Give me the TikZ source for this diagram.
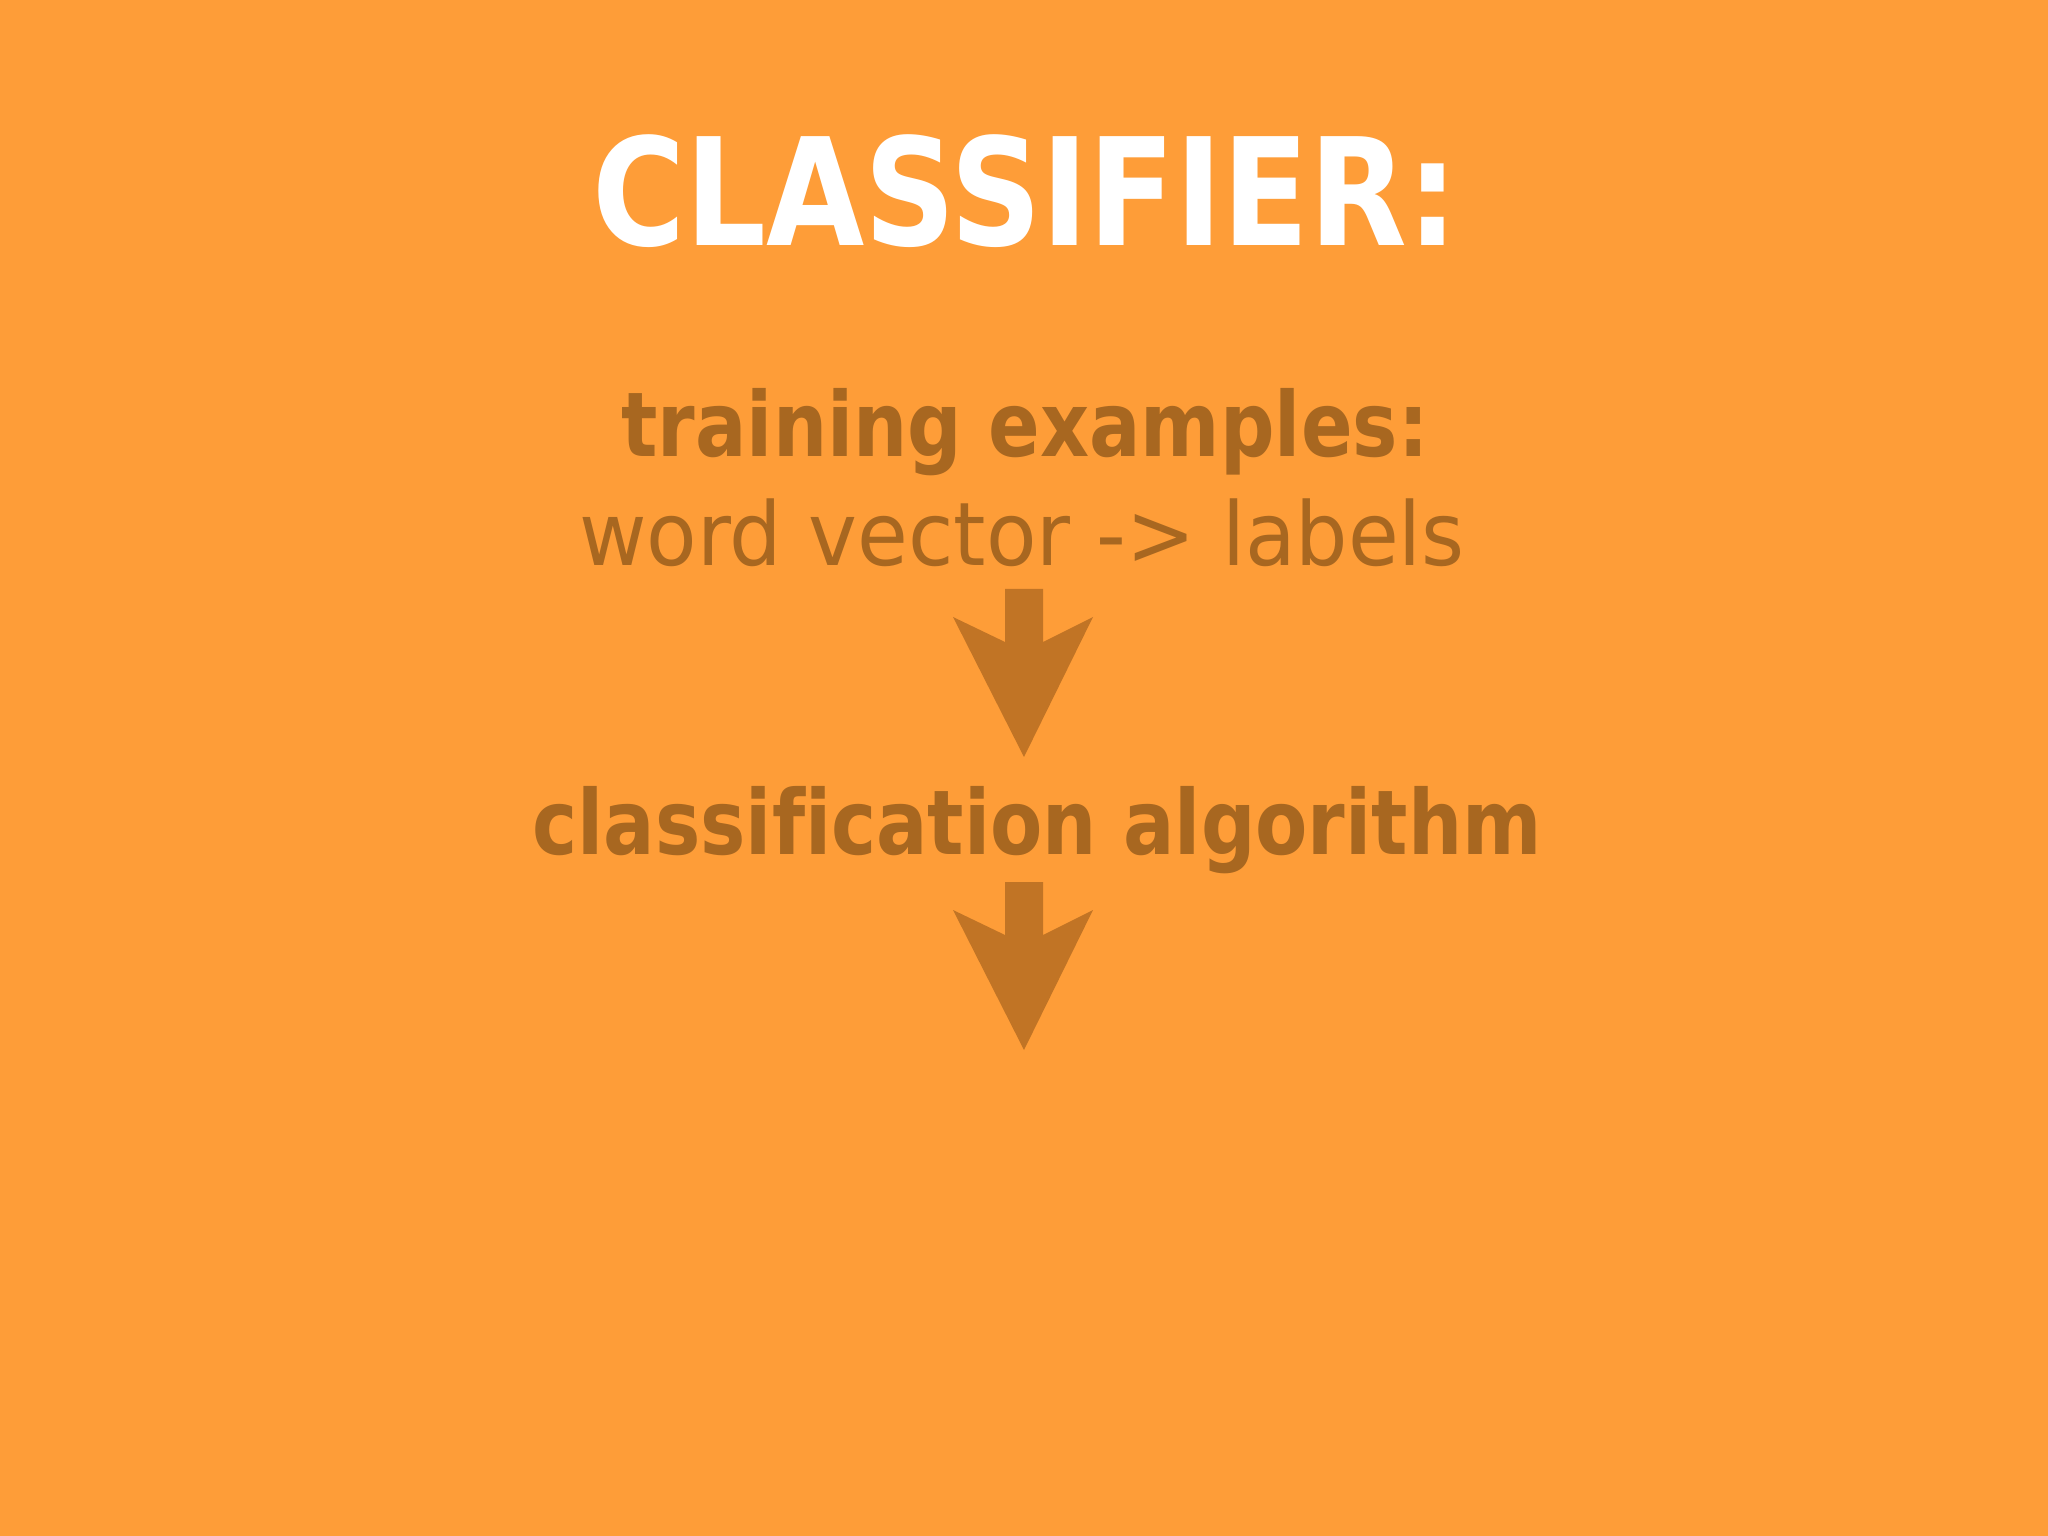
\documentclass[tikz,border=0pt]{standalone}
\usepackage{fontspec}
\usepackage{tikz}
\newfontfamily\boldcond[FakeStretch=0.85,Ligatures=NoCommon]{DejaVu Sans}
\newfontfamily\plaincond[FakeStretch=0.94,Ligatures=NoCommon]{DejaVu Sans}
\definecolor{bg_orange}{RGB}{254,157,56}
\definecolor{text_brown}{RGB}{168,103,32}
\definecolor{arrow_brown}{RGB}{193,116,37}
% block arrow pointing down, hung from the top of its shaft
\newcommand\downarrowblock[1]{
    \fill[arrow_brown] (#1) ++(-0.19,0) -- ++(0.38,0) -- ++(0,-0.53)
        -- ++(0.50,0.25) -- ++(-0.69,-1.40) -- ++(-0.71,1.40)
        -- ++(0.52,-0.25) -- cycle;
}

\begin{document}
\begin{tikzpicture}
    \tikzstyle{title}=[text=white, anchor=base, inner sep=0pt, font=\boldcond\bfseries\fontsize{42.5}{50}\selectfont]
    \tikzstyle{head}=[text=text_brown, anchor=base, inner sep=0pt, font=\boldcond\bfseries\fontsize{25.5}{30}\selectfont]
    \tikzstyle{plain}=[text=text_brown, anchor=base, inner sep=0pt, font=\plaincond\fontsize{25}{30}\selectfont]

    \fill[bg_orange] (0,0) rectangle (20.48,-15.36);
    \useasboundingbox (0,0) rectangle (20.48,-15.36);

    \node[title] (cls)  at (10.25,-2.46) {CLASSIFIER:};
    \node[head]  (ex)   at (10.25,-4.57) {training examples:};
    \node[plain] (vec)  at (10.22,-5.66) {word vector -> labels};
    \coordinate  (a1)   at (10.24,-5.89);
    \node[head]  (alg)  at (10.37,-8.55) {classification algorithm};
    \coordinate  (a2)   at (10.24,-8.82);

    \downarrowblock{a1}
    \downarrowblock{a2}
\end{tikzpicture}
\end{document}
